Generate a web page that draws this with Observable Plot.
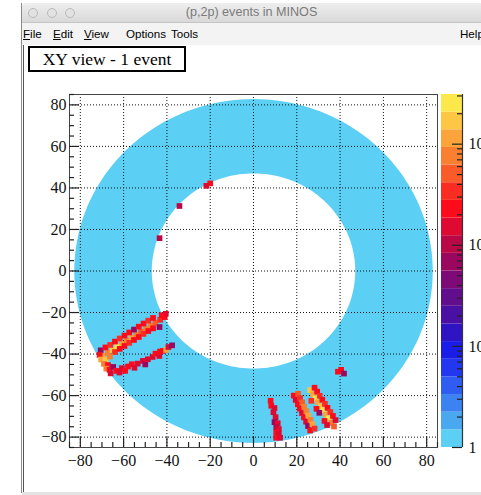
<!DOCTYPE html>
<html>
<head>
<meta charset="utf-8">
<script src="https://cdn.jsdelivr.net/npm/d3@7"></script>
<script src="https://cdn.jsdelivr.net/npm/@observablehq/plot@0.6"></script>
<style>
  html, body { margin: 0; padding: 0; }
  body { width: 481px; height: 495px; overflow: hidden; background: #fff; position: relative;
         font-family: "Liberation Sans", Arial, sans-serif; }
  .abs { position: absolute; }
  #titlebar { left: 22px; top: 3px; width: 459px; height: 19px;
              background: linear-gradient(#eeeeee, #d9d9d9); border-bottom: 1px solid #c4c4c4;
              border-top-left-radius: 4px; }
  #titlebar .t { position: absolute; left: 0; right: 0; top: 2px; text-align: center;
                 font-size: 12.6px; color: #7a7a7a; }
  .light { position: absolute; top: 5px; width: 10px; height: 10px; border-radius: 50%;
           border: 1px solid #b9b9b9; background: #e2e2e2; box-sizing: border-box; }
  #menubar { left: 22px; top: 23px; width: 459px; height: 22px; background: #f3f3f3; }
  #menubar span { position: absolute; top: 4px; font-size: 11.6px; color: #000; }
  #menubar u { text-decoration: underline; }
  #edgeA { left: 21px; top: 3px; width: 1px; height: 490px; background: #8a8a8a; }
  #edgeB { left: 23px; top: 45px; width: 1px; height: 448px; background: #555; }
  #bottomEdge { left: 22px; top: 492px; width: 459px; height: 3px; background: #e3e3e3; }
  #titlebox { left: 28px; top: 46px; width: 158px; height: 26px; border: 2px solid #000;
              box-sizing: border-box; text-align: center; font-family: "Liberation Serif", serif;
              font-size: 17.5px; line-height: 22px; color: #000; background: #fff; }
  #chart { left: 0; top: 80px; }
  #bar { left: 441px; top: 80px; }
  svg { overflow: visible; }
</style>
</head>
<body>
<div class="abs" id="titlebar">
  <div class="light" style="left:6px"></div>
  <div class="light" style="left:25px"></div>
  <div class="light" style="left:43px"></div>
  <div class="t">(p,2p) events in MINOS</div>
</div>
<div class="abs" id="menubar">
  <span style="left:1px"><u>F</u>ile</span>
  <span style="left:31px"><u>E</u>dit</span>
  <span style="left:62px"><u>V</u>iew</span>
  <span style="left:104px">Options</span>
  <span style="left:149px">Tools</span>
  <span style="left:438px">Help</span>
</div>
<div class="abs" id="edgeA"></div>
<div class="abs" id="edgeB"></div>
<div class="abs" id="bottomEdge"></div>
<div class="abs" id="titlebox">XY view - 1 event</div>
<div class="abs" id="chart"></div>
<div class="abs" id="bar"></div>

<script>
// ---- Detector pad plane (annulus of pads, all at the lowest charge level) ----
const padInnerRadius = 47;
const padOuterRadius = 82.8;

// ---- Charge palette: 20 levels, log scale from 1 to zMax ----
const zMin = 1;
const zMax = 3100;
const palette = [
  "#5ccff5", "#4aa8f0", "#3c82f0", "#2f5cf2", "#2238f0",
  "#1a1ce8", "#2f14c4", "#4a10a4", "#620d8c", "#7e0a78",
  "#9a075f", "#b90846", "#de0a32", "#fe0b1b", "#fb2d22",
  "#fb5a29", "#fa7f30", "#fca33b", "#fdc745", "#fce84b"
];

// ---- Hits of the event: [x (mm), y (mm), charge] ----
// long track, lower left: bright core with weaker pads on both sides
const trackA = [
  [-69.5, -40.9, 1100], [-67.3, -39.4, 750], [-65.1, -38.0, 1700], [-62.9, -36.5, 2500],
  [-60.7, -35.1, 1100], [-58.5, -33.6, 750], [-56.3, -32.2, 1100], [-54.1, -30.8, 750],
  [-51.9, -29.3, 500], [-49.7, -27.9, 750], [-47.5, -26.4, 750], [-45.3, -25.0, 500],
  [-43.1, -23.5, 330], [-41.0, -22.2, 230],
  [-70.6, -38.2, 70], [-68.4, -36.8, 230], [-66.2, -35.6, 330], [-64.0, -34.0, 230],
  [-61.8, -32.5, 330], [-59.6, -31.1, 230], [-57.4, -29.6, 230], [-55.2, -28.2, 70],
  [-53.0, -26.8, 230], [-50.8, -25.3, 230], [-48.6, -23.9, 330], [-46.4, -22.6, 230],
  [-64.0, -39.0, 330], [-61.8, -37.5, 230], [-59.6, -36.1, 230], [-57.4, -34.6, 330],
  [-55.2, -33.2, 230], [-53.0, -31.8, 230], [-50.8, -30.3, 330], [-48.6, -28.9, 230],
  [-46.4, -27.6, 230], [-43.4, -27.0, 70],
  [-40.5, -20.6, 150], [-42.4, -21.3, 230],
  [-71.1, -40.4, 230], [-70.4, -42.6, 1100], [-68.3, -42.8, 1700], [-66.3, -41.2, 750],
  [-69.1, -44.7, 750], [-67.2, -45.3, 230], [-68.0, -47.0, 750], [-66.5, -47.6, 230],
  [-66.0, -49.3, 150]
];
// second track, lower left: weaker pads
const trackB = [
  [-64.8, -46.2, 70],  [-63.4, -48.1, 230], [-61.9, -48.9, 150], [-60.8, -46.8, 150],
  [-59.3, -48.1, 230], [-58.0, -46.0, 230], [-56.2, -44.9, 230], [-55.0, -46.6, 150],
  [-53.5, -44.6, 150], [-51.1, -43.3, 150], [-50.0, -45.0, 70], [-48.8, -42.5, 150],
  [-46.6, -41.4, 150], [-45.3, -39.8, 230], [-43.5, -40.9, 150], [-43.2, -38.8, 230],
  [-41.9, -38.5, 230], [-40.4, -38.0, 1100], [-39.3, -36.6, 150], [-37.6, -35.8, 70]
];
// near-vertical track at x ~ 10
const trackC = [
  [7.9, -62.5, 230], [8.2, -64.9, 230], [9.7, -66.0, 150], [9.2, -68.0, 150],
  [10.2, -70.4, 150], [9.7, -72.8, 70], [11.2, -73.3, 150], [10.5, -75.2, 100],
  [11.7, -76.1, 150], [10.5, -77.6, 230], [11.7, -78.4, 150], [10.5, -80.3, 230],
  [12.3, -80.3, 150]
];
// two-column track at x ~ 20..29
const trackD = [
  [18.6, -60.0, 230], [19.5, -62.1, 150], [20.5, -64.2, 230], [21.4, -66.3, 230],
  [22.4, -68.4, 150], [23.3, -70.5, 230], [24.3, -72.6, 150], [25.2, -74.7, 70],
  [26.2, -76.8, 230],
  [20.6, -59.1, 500], [21.5, -61.2, 330], [22.5, -63.3, 500], [23.4, -65.4, 750],
  [24.4, -67.5, 750], [25.3, -69.6, 1100], [26.3, -71.7, 750], [27.2, -73.8, 1100],
  [28.2, -75.9, 330]
];
// brightest track at x ~ 26..38
const trackE = [
  [26.2, -57.4, 1700], [27.4, -59.3, 1100], [28.6, -61.3, 2500], [29.8, -63.2, 1100],
  [31.1, -65.2, 1700], [32.3, -67.1, 2500], [33.5, -69.1, 1100], [34.7, -71.0, 2500],
  [36.0, -73.0, 750], [37.2, -74.9, 500],
  [28.2, -56.2, 230], [29.4, -58.1, 230], [30.6, -60.1, 330], [31.8, -62.0, 230],
  [33.0, -64.0, 330], [34.2, -65.9, 230], [35.5, -67.9, 330], [36.7, -69.8, 230],
  [37.9, -71.8, 150],
  [26.7, -62.5, 330], [29.1, -66.4, 230], [30.4, -68.3, 70], [32.8, -72.2, 230],
  [34.0, -74.2, 150]
];
const isolatedHits = [
  [-20.0, 42.2, 230], [-21.8, 41.0, 150], [-34.2, 31.3, 100], [-43.4, 15.8, 100],
  [39.0, -48.5, 230], [40.5, -47.6, 230], [41.8, -49.4, 70]
];

// ---- Axes ----
const xDomain = [-85, 85];
const yDomain = [-85, 85];
const majorTicks = [-80, -60, -40, -20, 0, 20, 40, 60, 80];
const minorStep = 5;
const barMajor = [1, 10, 100, 1000];
const barLabels = ["1", "10", "10\u00b2", "10\u00b3"];

// ---- Derived tables ----
const hits = [...trackA, ...trackB, ...trackC, ...trackD, ...trackE, ...isolatedHits]
  .map(([x, y, q]) => ({x, y, q}));

const nLevels = palette.length;
const logSpan = Math.log10(zMax / zMin);
const levels = d3.range(nLevels + 1).map(i => zMin * Math.pow(10, logSpan * i / nLevels));
const thresholds = levels.slice(1, nLevels);
const bands = d3.range(nLevels).map(i => ({lo: levels[i], hi: levels[i + 1], mid: Math.sqrt(levels[i] * levels[i + 1])}));
const colorScale = {type: "threshold", domain: thresholds, range: palette};

// outline of the pad annulus: outer circle one way, inner circle back the other way
const angles = d3.range(0, 361, 2).map(a => a * Math.PI / 180);
const ring = [
  ...angles.map(a => ({x: padOuterRadius * Math.cos(a), y: padOuterRadius * Math.sin(a)})),
  ...angles.slice().reverse().map(a => ({x: padInnerRadius * Math.cos(a), y: padInnerRadius * Math.sin(a)}))
];

const minorTicks = d3.range(xDomain[0], xDomain[1] + 0.1, minorStep).filter(v => !majorTicks.includes(v));

// ---- Main XY view ----
const W = 440, H = 400, mL = 69, mR = 3, mT = 14, mB = 33;
const kx = (W - mL - mR) / (xDomain[1] - xDomain[0]);
const ky = (H - mT - mB) / (yDomain[1] - yDomain[0]);
const majorLen = 10, minorLen = 5;
const serif = "Liberation Serif, Times New Roman, serif";

const chart = Plot.plot({
  width: W, height: H,
  marginLeft: mL, marginRight: mR, marginTop: mT, marginBottom: mB,
  x: {domain: xDomain},
  y: {domain: yDomain},
  color: colorScale,
  style: {background: "transparent", fontFamily: serif, fontSize: "16px", color: "#111", overflow: "visible"},
  marks: [
    Plot.line(ring, {x: "x", y: "y", fill: palette[0], stroke: "none"}),
    Plot.ruleX(majorTicks, {stroke: "#111", strokeWidth: 1, strokeDasharray: "1,2"}),
    Plot.ruleY(majorTicks, {stroke: "#111", strokeWidth: 1, strokeDasharray: "1,2"}),
    Plot.dot(hits, {x: "x", y: "y", fill: "q", symbol: "square", r: 3.2, stroke: "none"}),
    Plot.frame({stroke: "#444", strokeWidth: 1}),
    Plot.ruleX(majorTicks, {y1: yDomain[0], y2: yDomain[0] + majorLen / ky, stroke: "#222", strokeWidth: 1.2}),
    Plot.ruleX(minorTicks, {y1: yDomain[0], y2: yDomain[0] + minorLen / ky, stroke: "#222", strokeWidth: 1.2}),
    Plot.ruleY(majorTicks, {x1: xDomain[0], x2: xDomain[0] + majorLen / kx, stroke: "#222", strokeWidth: 1.2}),
    Plot.ruleY(minorTicks, {x1: xDomain[0], x2: xDomain[0] + minorLen / kx, stroke: "#222", strokeWidth: 1.2}),
    Plot.axisX(majorTicks, {tickSize: 0, tickPadding: 7, tickFormat: d3.format("d"), label: null, fontSize: 16}),
    Plot.axisY(majorTicks, {tickSize: 0, tickPadding: 3, tickFormat: d3.format("d"), label: null, fontSize: 16})
  ]
});
document.getElementById("chart").append(chart);

// ---- Palette axis ----
const barMinor = [];
for (const m of barMajor) for (let k = 2; k <= 9; k++) if (m * k <= zMax) barMinor.push(m * k);
const bW = 40, bR = 19;
const barFrac = 1 / (bW - bR);

const bar = Plot.plot({
  width: bW, height: H,
  marginLeft: 0, marginRight: bR, marginTop: mT, marginBottom: mB,
  x: {domain: [0, 1], axis: null},
  y: {type: "log", domain: [zMin, zMax], axis: null},
  color: colorScale,
  style: {background: "transparent", fontFamily: serif, fontSize: "16px", color: "#111", overflow: "visible"},
  marks: [
    Plot.rect(bands, {x1: 0, x2: 1, y1: "lo", y2: "hi", fill: "mid"}),
    Plot.ruleX([1], {stroke: "#333", strokeWidth: 1.2}),
    Plot.ruleY(barMajor, {x1: 1 - 10 * barFrac, x2: 1, stroke: "#222", strokeWidth: 1.2}),
    Plot.ruleY(barMinor, {x1: 1 - 5 * barFrac, x2: 1, stroke: "#222", strokeWidth: 1.2}),
    Plot.text(barMajor, {x: 1, y: d => d, text: (d, i) => barLabels[i], dx: 6, textAnchor: "start", fontSize: 16})
  ]
});
document.getElementById("bar").append(bar);
</script>
</body>
</html>
